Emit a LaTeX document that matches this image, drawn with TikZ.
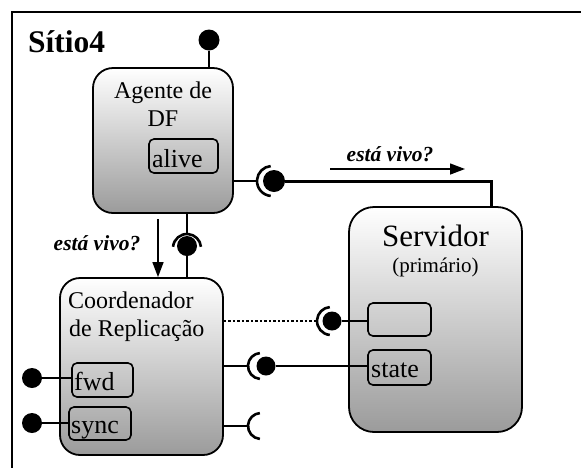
\documentclass[tikz,border=0pt]{standalone}
\usepackage{fontspec}
\setmainfont{Liberation Serif}
\usetikzlibrary{arrows.meta}
\definecolor{boxlow}{RGB}{155,155,155}
\tikzset{
  comp/.style={draw, line width=1.8pt, rounded corners=20pt, top color=white,
    bottom color=boxlow, inner sep=0pt},
  port/.style={draw, line width=1.6pt, rounded corners=5pt, inner sep=0pt},
  ball/.style={circle, fill=black, inner sep=0pt},
  socket/.style={line width=2.6pt},
  wire/.style={line width=1.6pt},
  txt/.style={inner sep=0pt, font=\fontsize{24}{28}\selectfont},
  plabel/.style={inner sep=0pt, anchor=base west, font=\fontsize{26}{30}\selectfont},
  msg/.style={inner sep=0pt, anchor=base, font=\fontsize{21.5}{24}\selectfont\bfseries\itshape},
  msgarrow/.style={line width=1.4pt, -{Triangle[length=15pt,width=11pt]}}
}
\begin{document}
\begin{tikzpicture}[x=1pt,y=-1pt]
\useasboundingbox (0,0) rectangle (581,467);
\clip (0,0) rectangle (581,467);

% enclosing site frame
\draw[line width=2pt] (12,470) -- (12,12) -- (590,12);
\node[inner sep=0pt, anchor=base west, font=\fontsize{31.5}{34}\selectfont\bfseries] (site) at (28,52) {Sítio4};

% components
\node[comp, minimum width=140pt, minimum height=145pt] (agent) at (163,140.5) {};
\node[comp, rounded corners=25pt, minimum width=173pt, minimum height=225pt] (server) at (435.5,319.5) {};
\node[comp, minimum width=163pt, minimum height=177pt] (coord) at (141.5,366.5) {};

% component titles
\node[txt, anchor=base] (agentA) at (163,98) {Agente de};
\node[txt, anchor=base] (agentB) at (163,126) {DF};
\node[inner sep=0pt, anchor=base, font=\fontsize{31}{34}\selectfont] (srvA) at (435.5,246) {Servidor};
\node[inner sep=0pt, anchor=base, font=\fontsize{21}{24}\selectfont] (srvB) at (435.5,272) {(primário)};
\node[txt, anchor=base west] (coordA) at (68,308) {Coordenador};
\node[txt, anchor=base west] (coordB) at (69,336) {de Replicação};

% ports
\node[port, minimum width=69pt, minimum height=34pt] (alive) at (183.5,156) {};
\node[plabel] at (152,167) {alive};
\node[port, minimum width=63pt, minimum height=33pt] (blank) at (399.5,319.5) {};
\node[port, minimum width=63pt, minimum height=35pt] (state) at (399.5,367.5) {};
\node[plabel] at (371,377) {state};
\node[port, minimum width=61pt, minimum height=34pt] (fwd) at (102.5,380) {};
\node[plabel] at (74,390) {fwd};
\node[port, minimum width=62pt, minimum height=33pt] (sync) at (100,423.5) {};
\node[plabel] at (71,433) {sync};

% provided interfaces (balls)
\node[ball, minimum size=21pt] (topball) at (209,40) {};
\node[ball, minimum size=22pt] (aball) at (274,181) {};
\node[ball, minimum size=20pt] (dball) at (187,246) {};
\node[ball, minimum size=19pt] (dotball) at (332,321) {};
\node[ball, minimum size=19pt] (stball) at (266,366) {};
\node[ball, minimum size=20pt] (fwdball) at (32,378) {};
\node[ball, minimum size=20pt] (syncball) at (32,423) {};

% required interfaces (sockets)
\coordinate (asock) at (272,181);
\coordinate (dsock) at (187,248);
\coordinate (dotsock) at (331,321);
\coordinate (stsock) at (261,366);
\coordinate (bsock) at (261,426);
\draw[socket] (asock) ++(95:15) arc[start angle=95, end angle=265, radius=15];
\draw[socket] (dsock) ++(185:14) arc[start angle=185, end angle=355, radius=14];
\draw[socket] (dotsock) ++(95:14) arc[start angle=95, end angle=265, radius=14];
\draw[socket] (stsock) ++(95:13) arc[start angle=95, end angle=265, radius=13];
\draw[socket] (bsock) ++(95:13) arc[start angle=95, end angle=265, radius=13];
\coordinate (asockL) at (257,181);
\coordinate (dsockT) at (187,234);
\coordinate (dotsockL) at (317,321);
\coordinate (stsockL) at (248,366);
\coordinate (bsockL) at (248,426);

% connectors
\draw[wire] (topball) -- (topball |- agent.north);
\draw[wire, line width=2.2pt] (agent.east |- aball) -- (asockL);
\draw[line width=3pt] (aball) -| ([xshift=55.5pt]server.north);
\draw[wire, line width=2.2pt] (agent.south -| dball) -- (dsockT);
\draw[wire, line width=2.2pt] (dball) -- (dball |- coord.north);
\draw[line width=2.6pt, dash pattern=on 2.5pt off 2pt] (coord.east |- dotball) -- (dotsockL);
\draw[wire] (dotball) -- (dotball -| blank.west);
\draw[wire] (coord.east |- stball) -- (stsockL);
\draw[wire] (stball) -- (stball -| state.west);
\draw[wire] (coord.east |- bsock) -- (bsockL);
\draw[wire] (fwdball) -- (fwdball -| fwd.west);
\draw[wire] (syncball) -- (syncball -| sync.west);

% message arrows
\coordinate (m1s) at (330,169);
\coordinate (m1e) at (465,169);
\draw[msgarrow] (m1s) -- (m1e);
\node[msg] (m1) at (390,161) {está vivo?};
\coordinate (m2s) at (158,219);
\draw[msgarrow] (m2s) -- (m2s |- coord.north);
\node[msg] (m2) at (97,250) {está vivo?};
\end{tikzpicture}
\end{document}
